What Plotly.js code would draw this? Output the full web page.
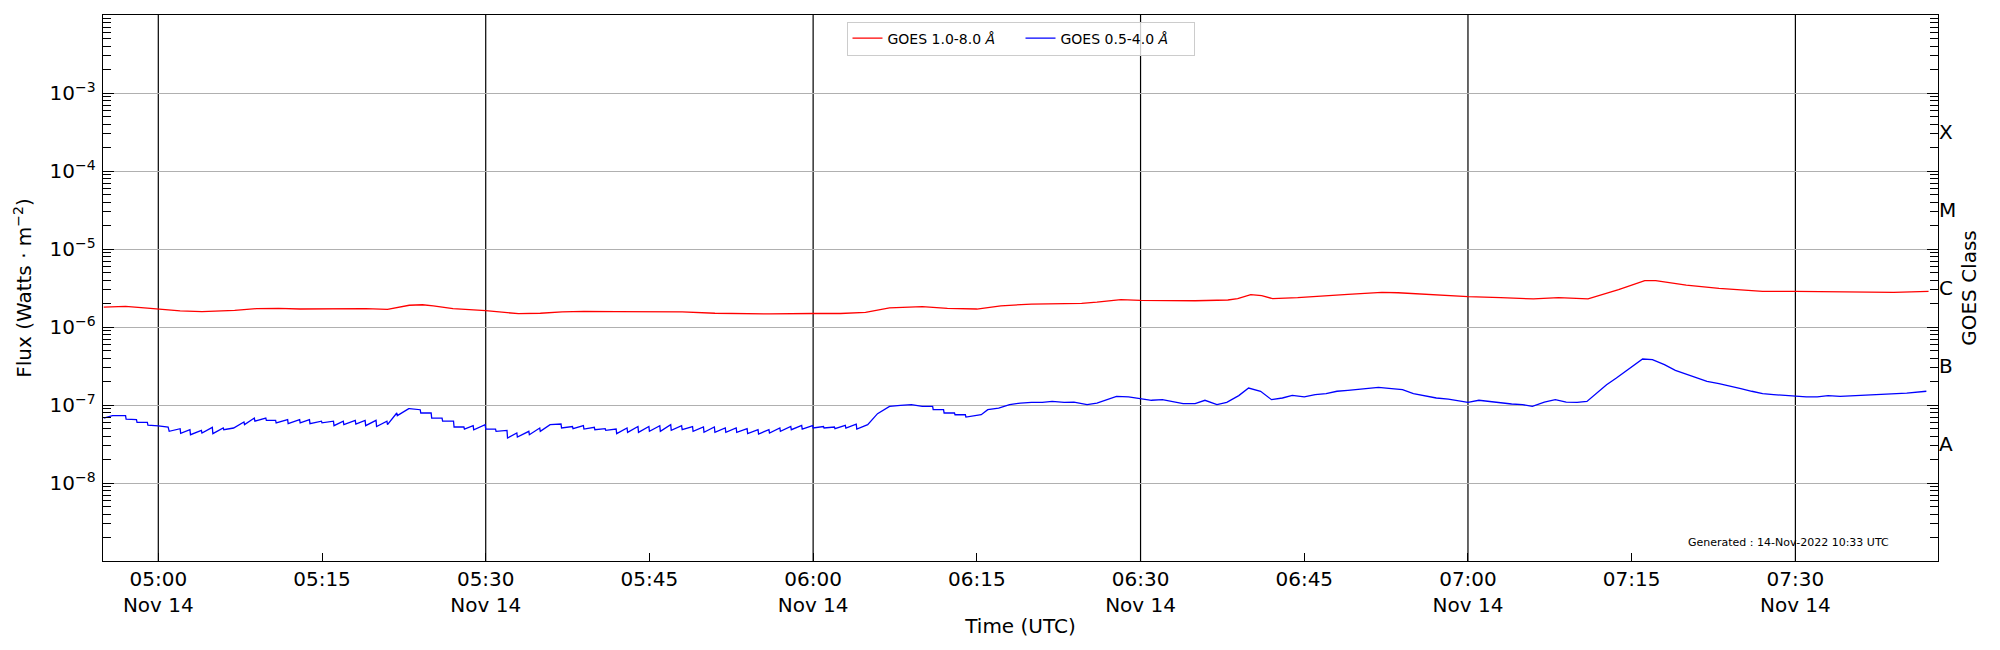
<!DOCTYPE html>
<html>
<head>
<meta charset="utf-8">
<script src="https://cdn.plot.ly/plotly-3.0.1.min.js"></script>
<style>
  body { margin: 0; background: #fff; }
  #goes { width: 2000px; height: 650px; }
</style>
</head>
<body>
<div id="goes"></div>
<script>
// minutes after 05:00 UTC, 14 Nov 2022
var baseTime = Date.UTC(2022, 10, 14, 5, 0, 0);

// GOES 1.0-8.0 A, units of 1e-6 W/m2
var longMinutes = [-5, -3, -1, 0, 2, 4, 7, 9, 11, 13, 16, 19, 21, 22, 23, 24.2, 25.2, 27, 30, 33,
  35, 37, 39, 42, 44, 48, 51, 56, 60, 62.5, 64.8, 67, 70, 72.3, 75, 77.2, 80, 84.6, 86, 88.2,
  90, 95, 98, 98.9, 100.1, 101.1, 102.1, 104.4, 109, 112.1, 113.6, 116.7, 120, 123, 126, 128.3,
  131, 133.8, 136.2, 137.2, 140, 143, 147, 150, 154.3, 159, 162.2];
var longFlux = [1.80, 1.84, 1.75, 1.70, 1.61, 1.57, 1.63, 1.72, 1.73, 1.70, 1.70, 1.72, 1.68, 1.77, 1.90, 1.93, 1.87, 1.72, 1.62, 1.48,
  1.50, 1.56, 1.59, 1.57, 1.56, 1.56, 1.50, 1.47, 1.49, 1.49, 1.54, 1.76, 1.82, 1.73, 1.70, 1.87, 1.97, 2.01, 2.08, 2.24,
  2.20, 2.17, 2.22, 2.31, 2.60, 2.52, 2.31, 2.38, 2.62, 2.78, 2.75, 2.60, 2.45, 2.38, 2.29, 2.38,
  2.29, 3.01, 3.93, 3.93, 3.45, 3.13, 2.86, 2.86, 2.81, 2.78, 2.86];

// GOES 0.5-4.0 A, units of 1e-8 W/m2
var shortMinutes = [-5.0, -4.2, -3.0, -2.95, -2.0, -1.95, -1.0, -0.95, 0.0, 0.9, 1.0, 2.0, 2.05, 2.9, 2.95, 3.95, 4.0, 4.95, 5.0, 5.95,
  6.0, 6.9, 7.85, 7.9, 8.8, 8.85, 9.85, 9.9, 10.75, 10.8, 11.85, 11.9, 12.95, 13.0, 13.85, 13.9, 14.95, 15.0, 16.05, 16.1,
  16.95, 17.0, 18.05, 18.1, 18.95, 19.0, 19.95, 20.0, 20.95, 21.0, 21.85, 21.9, 22.95, 23.0, 24.0, 24.05, 25.0, 25.05, 26.0, 26.05,
  27.05, 27.1, 28.0, 28.05, 28.85, 28.9, 29.95, 30.0, 30.9, 30.95, 31.95, 32.0, 32.85, 32.9, 33.95, 34.0, 34.95, 35.0, 35.9, 36.9,
  36.95, 37.95, 38.0, 38.95, 39.0, 39.95, 40.0, 40.95, 41.0, 41.95, 42.0, 42.95, 43.0, 43.95, 44.0, 44.95, 45.0, 45.95, 46.0, 46.95,
  47.0, 47.95, 48.0, 48.95, 49.0, 49.95, 50.0, 50.95, 51.0, 51.95, 52.0, 52.95, 53.0, 53.95, 54.0, 54.95, 55.0, 55.95, 56.0, 56.95,
  57.0, 57.95, 58.0, 58.95, 59.0, 59.95, 60.0, 60.95, 61.0, 61.95, 62.0, 62.95, 63.0, 63.95, 64.0, 65.0, 65.9, 67.0, 68.0, 69.0,
  70.0, 70.95, 71.0, 71.95, 72.0, 72.95, 73.0, 73.95, 74.0, 75.0, 75.4, 76.0, 77.0, 78.0, 79.0, 80.0, 81.0, 81.9, 83.0, 83.9,
  85.1, 86.0, 86.9, 87.8, 88.9, 90.0, 91.0, 92.0, 93.0, 93.9, 95.0, 95.9, 97.0, 97.9, 99.0, 99.9, 101.0, 102.0, 103.0, 103.9,
  105.0, 106.0, 107.0, 108.0, 109.0, 110.0, 110.9, 111.8, 113.0, 114.0, 115.0, 116.0, 117.1, 118.2, 119.3, 120.0, 121.0, 121.9, 123.0, 124.0,
  125.0, 125.9, 127.0, 128.0, 129.0, 130.0, 130.9, 131.8, 132.7, 133.6, 134.9, 136.0, 136.9, 138.0, 139.0, 140.1, 141.0, 141.9, 143.0, 144.0,
  145.0, 146.0, 147.0, 148.0, 149.0, 150.0, 151.0, 152.0, 153.0, 154.1, 156.0, 157.2, 159.0, 160.2, 162.0];
var shortFlux = [6.8, 7.3, 7.3, 6.6, 6.5, 6.0, 6.0, 5.5, 5.4, 5.2, 4.6, 4.97, 4.33, 4.82, 4.16, 4.73, 4.38, 5.17, 4.29, 5.07,
  4.82, 5.07, 6.05, 5.6, 6.8, 6.2, 6.8, 6.36, 6.36, 5.9, 6.5, 5.76, 6.5, 5.9, 6.5, 5.76, 6.2, 5.9, 6.2, 5.43,
  6.2, 5.6, 6.36, 5.7, 6.36, 5.43, 6.36, 5.3, 6.2, 5.6, 7.9, 7.3, 8.97, 9.0, 8.7, 7.9, 7.9, 6.8, 6.8, 6.2,
  6.2, 5.22, 5.22, 4.92, 5.43, 4.82, 5.6, 4.92, 4.92, 4.6, 4.73, 3.78, 4.38, 3.89, 4.6, 4.16, 5.07, 4.6, 5.6, 5.7,
  5.07, 5.3, 4.97, 5.43, 4.92, 5.17, 4.82, 4.97, 4.73, 4.92, 4.29, 5.07, 4.46, 5.3, 4.46, 5.3, 4.6, 5.43, 4.6, 5.6,
  4.73, 5.43, 4.82, 5.3, 4.6, 5.22, 4.46, 5.22, 4.46, 5.07, 4.46, 5.07, 4.46, 4.97, 4.29, 4.82, 4.25, 4.82, 4.38, 5.07,
  4.6, 5.3, 4.82, 5.48, 4.92, 5.43, 5.07, 5.3, 5.07, 5.22, 4.97, 5.48, 5.07, 5.7, 4.92, 5.6, 7.74, 9.6, 9.9, 10.1,
  9.6, 9.6, 8.7, 8.7, 7.9, 7.9, 7.5, 7.5, 7.0, 7.3, 7.5, 8.7, 9.1, 10.1, 10.6, 10.8, 10.8, 11.1, 10.8, 10.9,
  10.1, 10.6, 11.7, 12.9, 12.7, 12.0, 11.5, 11.7, 11.1, 10.4, 10.4, 11.5, 10.1, 10.8, 13.2, 16.5, 15.0, 11.7, 12.3, 13.3,
  12.7, 13.6, 14.0, 15.0, 15.4, 16.0, 16.5, 16.8, 16.2, 15.7, 14.0, 13.2, 12.3, 11.9, 11.1, 10.8, 11.5, 11.1, 10.6, 10.3,
  10.1, 9.6, 10.9, 11.7, 10.9, 10.8, 11.1, 14.2, 18.2, 22.2, 29.8, 38.9, 38.1, 32.9, 27.8, 24.5, 22.2, 20.1, 18.8, 17.3,
  16.2, 15.0, 14.0, 13.6, 13.3, 13.2, 12.7, 12.7, 13.2, 12.9, 13.3, 13.4, 14.0, 14.2, 15.0];

var tickMinutes = [0, 15, 30, 45, 60, 75, 90, 105, 120, 135, 150];
var tickLabels = ['05:00<br>Nov 14', '05:15', '05:30<br>Nov 14', '05:45', '06:00<br>Nov 14', '06:15',
  '06:30<br>Nov 14', '06:45', '07:00<br>Nov 14', '07:15', '07:30<br>Nov 14'];
var halfHourMinutes = [0, 30, 60, 90, 120, 150];

var fluxDecades = [-8, -7, -6, -5, -4, -3];
var classLevels = [-7.5, -6.5, -5.5, -4.5, -3.5];
var classLabels = ['A', 'B', 'C', 'M', 'X'];

var xRange = ['2022-11-14 04:54:56', '2022-11-14 07:43:04'];
var yRange = [-9, -2];

function toTime(m) {
  return new Date(baseTime + m * 60000).toISOString().replace('T', ' ').replace('Z', '');
}

var minorVals = [];
for (var d = -9; d < -2; d++) {
  for (var k = 2; k <= 9; k++) minorVals.push(k * Math.pow(10, d));
}

var font = {family: 'DejaVu Sans', size: 20, color: 'black'};

// red goes on the class axis (same log range) so that axis gets drawn
var traces = [
  {
    x: longMinutes.map(toTime),
    y: longFlux.map(function (v) { return v * 1e-6; }),
    xaxis: 'x', yaxis: 'y2',
    type: 'scatter', mode: 'lines',
    name: 'GOES 1.0-8.0 <i>Å</i>',
    line: {color: '#ff0000', width: 1.3}
  },
  {
    x: shortMinutes.map(toTime),
    y: shortFlux.map(function (v) { return v * 1e-8; }),
    xaxis: 'x', yaxis: 'y',
    type: 'scatter', mode: 'lines',
    name: 'GOES 0.5-4.0 <i>Å</i>',
    line: {color: '#0000ff', width: 1.3}
  }
];

// black vertical lines every half hour
var halfHourLines = halfHourMinutes.map(function (m) {
  return {type: 'line', xref: 'x', yref: 'paper', x0: toTime(m), x1: toTime(m), y0: 0, y1: 1,
    line: {color: 'black', width: 1.2}, layer: 'below'};
});

var layout = {
  width: 2000, height: 650,
  margin: {l: 103, r: 62, t: 15, b: 89},
  paper_bgcolor: 'white', plot_bgcolor: 'white',
  font: font,
  showlegend: true,
  legend: {
    orientation: 'h', x: 0.5, xanchor: 'center', y: 0.988, yanchor: 'top',
    font: {family: 'DejaVu Sans', size: 14, color: 'black'},
    entrywidth: 128, itemwidth: 30,
    bordercolor: '#cccccc', borderwidth: 1, bgcolor: 'rgba(255,255,255,0.8)'
  },
  xaxis: {
    type: 'date', range: xRange,
    tickmode: 'array', tickvals: tickMinutes.map(toTime), ticktext: tickLabels,
    showgrid: false,
    ticks: 'inside', ticklen: 8, tickcolor: 'black',
    showline: true, linecolor: 'black', linewidth: 1.3, mirror: true,
    zeroline: false, tickfont: font,
    title: {text: 'Time (UTC)', font: font, standoff: 2}
  },
  yaxis: {
    type: 'log', range: yRange,
    tickmode: 'array', tickvals: fluxDecades.map(function (e) { return Math.pow(10, e); }),
    ticktext: fluxDecades.map(function (e) { return '10<sup>−' + (-e) + '</sup>'; }),
    showgrid: true, gridcolor: '#b0b0b0', gridwidth: 1,
    ticks: 'inside', ticklen: 11, tickcolor: 'black',
    minor: {tickmode: 'array', tickvals: minorVals, ticks: 'inside', ticklen: 8, tickcolor: 'black', showgrid: false},
    showline: true, linecolor: 'black', linewidth: 1.3, mirror: 'allticks',
    zeroline: false, tickfont: font, ticklabelstandoff: 2,
    title: {text: 'Flux (Watts · m<sup>−2</sup>)', font: font, standoff: 12}
  },
  yaxis2: {
    type: 'log', range: yRange, overlaying: 'y', anchor: 'x', side: 'right',
    tickmode: 'array', tickvals: classLevels.map(function (e) { return Math.pow(10, e); }),
    ticktext: classLabels, ticks: '', showgrid: false, showline: false, zeroline: false,
    tickfont: font,
    title: {text: 'GOES Class', font: font, standoff: 6}
  },
  shapes: halfHourLines,
  annotations: [{
    xref: 'paper', yref: 'paper', x: 0.9745, y: 0.033, xanchor: 'right', yanchor: 'middle',
    text: 'Generated : 14-Nov-2022 10:33 UTC', showarrow: false,
    font: {family: 'DejaVu Sans', size: 11, color: 'black'}
  }]
};

Plotly.newPlot('goes', traces, layout, {displayModeBar: false, staticPlot: true});
</script>
</body>
</html>
